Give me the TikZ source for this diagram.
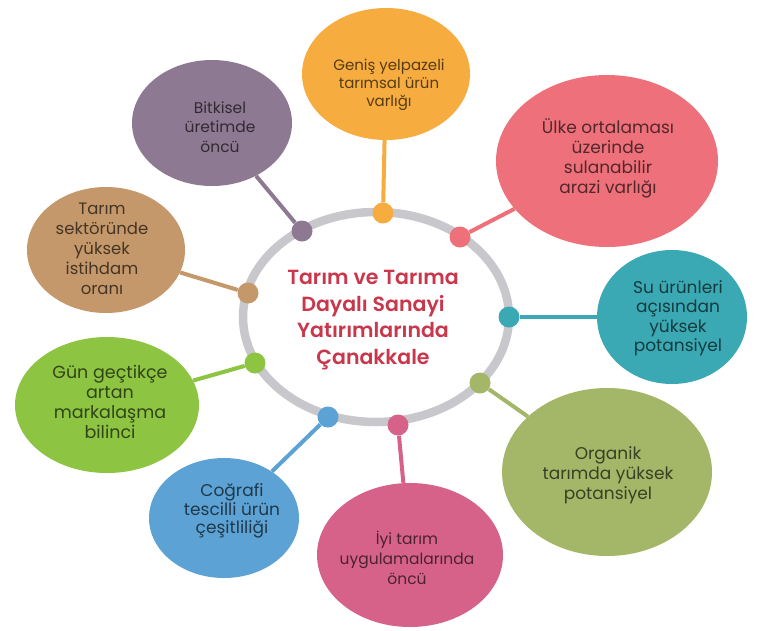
\documentclass[tikz,border=0pt]{standalone}
\usepackage{fontspec}
\setmainfont{Poppins}
\newfontfamily\titlefont{Poppins SemiBold}
\usetikzlibrary{shapes.geometric}
\definecolor{corange}{RGB}{246,172,62}
\definecolor{cred}{RGB}{238,112,122}
\definecolor{cpurple}{RGB}{142,121,146}
\definecolor{ctan}{RGB}{196,152,106}
\definecolor{cteal}{RGB}{58,169,180}
\definecolor{cgreen}{RGB}{141,196,66}
\definecolor{colive}{RGB}{164,182,104}
\definecolor{cblue}{RGB}{92,162,212}
\definecolor{cpink}{RGB}{214,98,138}
\definecolor{cring}{RGB}{200,200,204}
\definecolor{ctitle}{RGB}{200,55,75}
\tikzset{
  bubble/.style={ellipse, fill=#1, draw=none, inner sep=0pt},
  btext/.style={align=center, text=#1!35!black},
  hub/.style={circle, fill=#1, minimum size=21pt, inner sep=0pt},
  link/.style={draw=#1, line width=4pt},
}
\begin{document}
\begin{tikzpicture}[x=1pt,y=-1pt]
\fill[white] (0,0) rectangle (758,630);
\useasboundingbox (0,0) rectangle (758,630);
% central ring
\node[ellipse, draw=cring, line width=8.5pt, minimum width=266pt, minimum height=210pt, inner sep=0pt] (ring) at (376,317) {};
\node[align=center, text=ctitle, font=\titlefont\fontsize{20.5}{26.5}\selectfont] (title) at (373,320) {Tarım ve Tarıma\\Dayalı Sanayi\\Yatırımlarında\\Çanakkale};
% bubbles
\node[bubble=corange, minimum width=168pt, minimum height=132pt] (bO) at (386,74) {};
\node[btext=corange, font=\fontsize{15}{18}\selectfont] (tO) at (389,85) {Geniş yelpazeli\\tarımsal ürün\\varlığı};
\node[bubble=cred, minimum width=222pt, minimum height=172pt] (bR) at (607,161) {};
\node[btext=cred, font=\fontsize{17}{20}\selectfont] (tR) at (608,158) {Ülke ortalaması\\üzerinde\\sulanabilir\\arazi varlığı};
\node[bubble=cpurple, minimum width=160pt, minimum height=126pt] (bP) at (212,123) {};
\node[btext=cpurple, font=\fontsize{15.5}{19.5}\selectfont] (tP) at (220,127) {Bitkisel\\üretimde\\öncü};
\node[bubble=ctan, minimum width=158pt, minimum height=126pt] (bT) at (106,250) {};
\node[btext=ctan, font=\fontsize{16.5}{20}\selectfont] (tT) at (102,249) {Tarım\\sektöründe\\yüksek\\istihdam\\oranı};
\node[bubble=cteal, minimum width=150pt, minimum height=134pt] (bS) at (672,317) {};
\node[btext=cteal, font=\fontsize{17}{19.5}\selectfont] (tS) at (678,318) {Su ürünleri\\açısından\\yüksek\\potansiyel};
\node[bubble=cgreen, minimum width=184pt, minimum height=136pt] (bG) at (107,405) {};
\node[btext=cgreen, font=\fontsize{17.5}{20}\selectfont] (tG) at (110,402) {Gün geçtikçe\\artan\\markalaşma\\bilinci};
\node[bubble=colive, minimum width=210pt, minimum height=168pt] (bV) at (607,472) {};
\node[btext=colive, font=\fontsize{17}{20}\selectfont] (tV) at (608,475) {Organik\\tarımda yüksek\\potansiyel};
\node[bubble=cblue, minimum width=150pt, minimum height=120pt] (bB) at (224,518) {};
\node[btext=cblue, font=\fontsize{17}{18.5}\selectfont] (tB) at (232,511) {Coğrafi\\tescilli ürün\\çeşitliliği};
\node[bubble=cpink, minimum width=186pt, minimum height=144pt] (bK) at (410,555) {};
\node[btext=cpink, font=\fontsize{15.5}{20}\selectfont] (tK) at (407,558) {İyi tarım\\uygulamalarında\\öncü};
% hubs on the ring
\node[hub=corange] (dO) at (383,213) {};
\node[hub=cred] (dR) at (460,237) {};
\node[hub=cteal] (dS) at (509,317) {};
\node[hub=colive] (dV) at (480,383) {};
\node[hub=cpink] (dK) at (398,425) {};
\node[hub=cblue] (dB) at (328,417) {};
\node[hub=cgreen] (dG) at (255,363) {};
\node[hub=ctan] (dT) at (248,293) {};
\node[hub=cpurple] (dP) at (302,231) {};
% connectors
\draw[link=corange] (dO) -- (bO);
\draw[link=cred] (dR) -- (bR);
\draw[link=cteal] (dS) -- (bS);
\draw[link=colive] (dV) -- (bV);
\draw[link=cpink] (dK) -- (bK);
\draw[link=cblue] (dB) -- (bB);
\draw[link=cgreen] (dG) -- (bG);
\draw[link=ctan] (dT) -- (bT);
\draw[link=cpurple] (dP) -- (bP);
\end{tikzpicture}
\end{document}
